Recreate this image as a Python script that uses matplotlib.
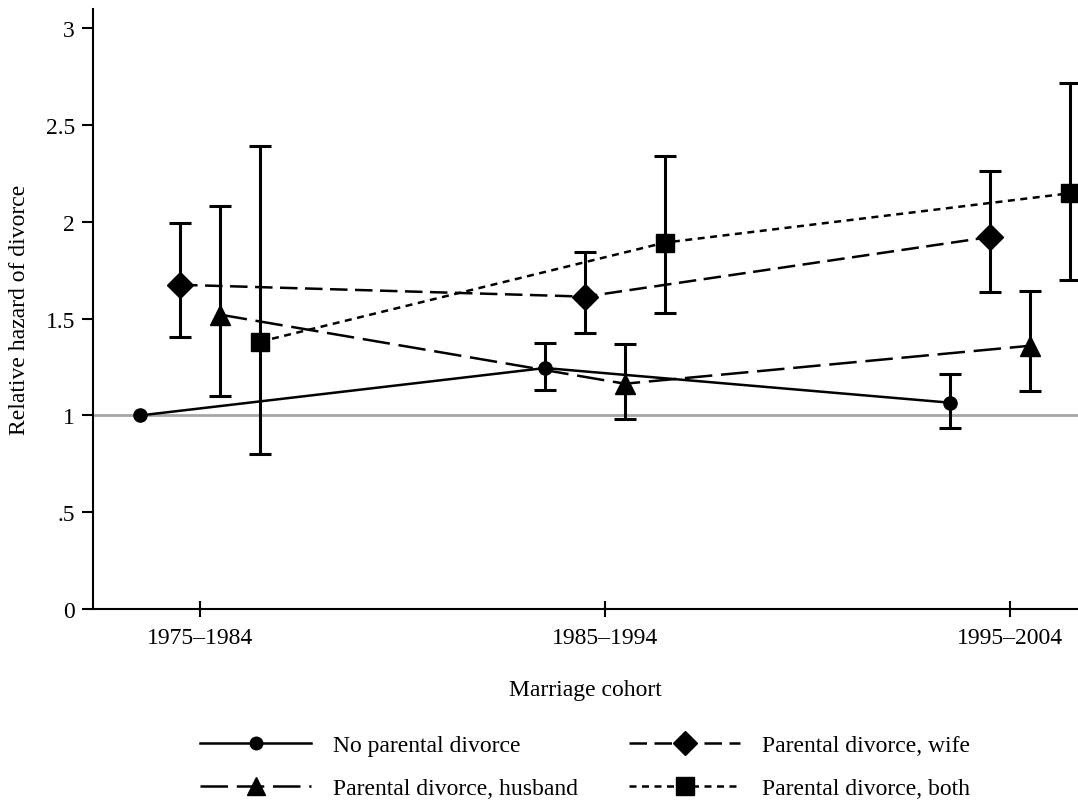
import matplotlib
matplotlib.use("Agg")
import matplotlib.pyplot as plt
import numpy as np

plt.rcParams['font.family'] = ['Liberation Serif', 'DejaVu Serif']

cohorts = ["1975\u20131984", "1985\u20131994", "1995\u20132004"]
series = ["No parental divorce", "Parental divorce, wife",
          "Parental divorce, husband", "Parental divorce, both"]

no_val = [1.00, 1.245, 1.066]
no_lo = [1.00, 1.133, 0.936]
no_hi = [1.00, 1.372, 1.214]

wife_val = [1.675, 1.614, 1.922]
wife_lo = [1.407, 1.426, 1.640]
wife_hi = [1.996, 1.842, 2.261]

husb_val = [1.521, 1.164, 1.360]
husb_lo = [1.100, 0.983, 1.128]
husb_hi = [2.080, 1.371, 1.643]

both_val = [1.381, 1.893, 2.148]
both_lo = [0.800, 1.531, 1.702]
both_hi = [2.393, 2.343, 2.718]

ytick_vals = [0, 0.5, 1, 1.5, 2, 2.5, 3]
ytick_labels = ["0", ".5", "1", "1.5", "2", "2.5", "3"]

fig = plt.figure(figsize=(10.78, 8.04), dpi=100)
ax = fig.add_axes([93/1078, 1-610/804, 1-93/1078, 600/804])

x = np.arange(len(cohorts))
offsets = [-0.148, -0.049, 0.049, 0.148]
styles = [
    dict(ls='-', marker='o', ms=9.5),
    dict(ls=(0, (7, 3)), marker='D', ms=13),
    dict(ls=(0, (11, 3.5)), marker='^', ms=14),
    dict(ls=(0, (2.8, 2.2)), marker='s', ms=13),
]
data = [(no_val, no_lo, no_hi), (wife_val, wife_lo, wife_hi),
        (husb_val, husb_lo, husb_hi), (both_val, both_lo, both_hi)]

ax.axhline(1.0, color='#a6a6a6', lw=2, zorder=1)

handles = []
for i, ((v, lo, hi), st, name) in enumerate(zip(data, styles, series)):
    xs = x + offsets[i]
    v = np.array(v); lo = np.array(lo); hi = np.array(hi)
    start = 1 if i == 0 else 0
    ax.errorbar(xs[start:], v[start:], yerr=[(v - lo)[start:], (hi - v)[start:]],
                fmt='none', ecolor='black', elinewidth=2.2, capsize=8,
                capthick=2.2, zorder=2)
    h, = ax.plot(xs, v, color='black', lw=1.8, linestyle=st['ls'],
                 marker=st['marker'], ms=st['ms'], mfc='black', mec='black',
                 zorder=3, label=name, clip_on=False)
    handles.append(h)

ax.set_xlim(-0.264, 2.168)
ax.set_ylim(0, 3.1)
ax.spines['top'].set_visible(False)
ax.spines['right'].set_visible(False)
ax.spines['left'].set_linewidth(1.5)
ax.spines['bottom'].set_linewidth(1.5)

ax.set_xticks(x)
ax.set_xticklabels(cohorts, fontsize=17)
ax.set_yticks(ytick_vals)
ax.set_yticklabels(ytick_labels, fontsize=17)
ax.tick_params(axis='y', direction='out', length=8, width=1.5, pad=5)
ax.tick_params(axis='x', direction='inout', length=12, width=1.5, pad=7)

ax.set_xlabel("Marriage cohort", fontsize=17, labelpad=22)
fig.text(20/1078, 1-310/804, "Relative hazard of divorce", rotation=90,
         fontsize=17, ha='center', va='center')

order = [0, 2, 1, 3]
fig.legend([handles[k] for k in order], [series[k] for k in order],
           ncol=2, loc='center', bbox_to_anchor=(585/1078, 1-768/804),
           frameon=False, fontsize=17, handlelength=4.7, handletextpad=0.9,
           columnspacing=2.2, labelspacing=0.9, numpoints=1, markerscale=0.95)

fig.savefig("out.png", dpi=100)
